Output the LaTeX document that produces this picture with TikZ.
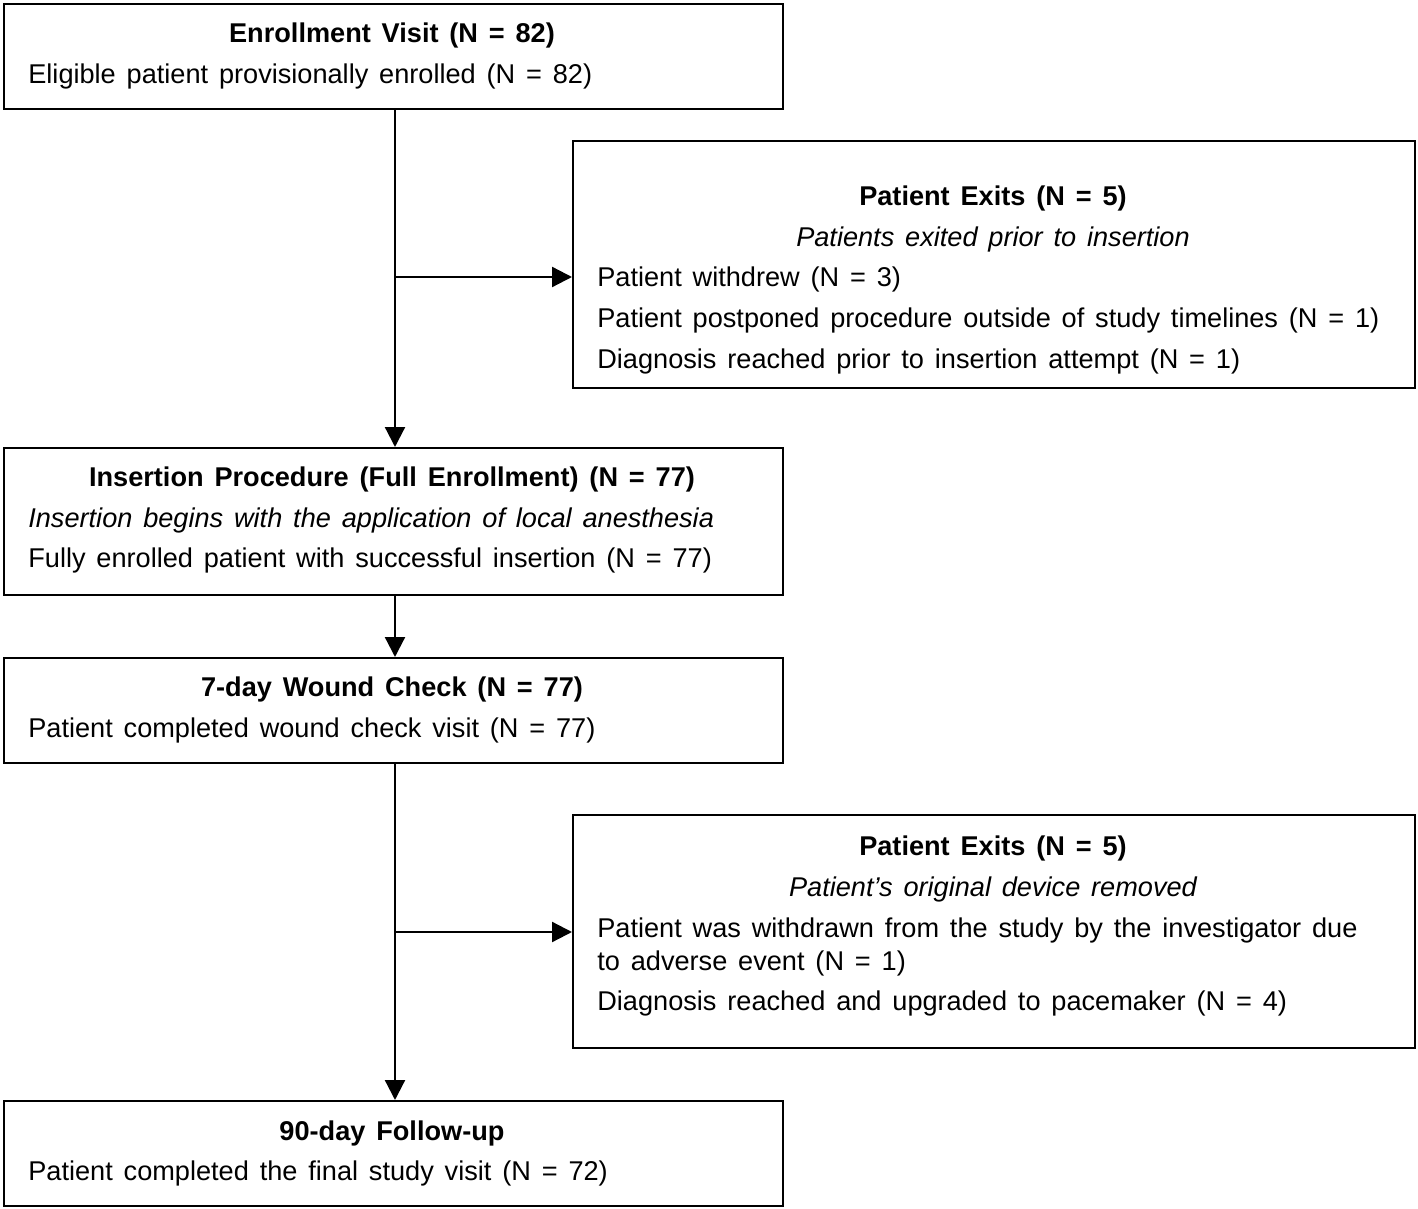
\documentclass[tikz,border=0pt]{standalone}
\usepackage{fontspec}
\setmainfont{Liberation Sans}
\usetikzlibrary{arrows.meta}
\newcommand\wordsp{\spaceskip=0.40em plus 0.1em minus 0.05em\relax}
\tikzset{
  box/.style={draw, line width=1.3pt, rectangle, inner sep=0pt, anchor=north west},
  txt/.style={inner sep=0pt, anchor=mid west, font=\fontsize{15.45pt}{18pt}\selectfont, execute at begin node=\wordsp},
  ctxt/.style={txt, anchor=mid},
  hd/.style={ctxt, font=\fontsize{15.45pt}{18pt}\selectfont\bfseries},
  it/.style={ctxt, font=\fontsize{15.45pt}{18pt}\selectfont\itshape},
  itl/.style={txt, font=\fontsize{15.45pt}{18pt}\selectfont\itshape},
  conn/.style={line width=1.3pt, -{Triangle[length=0.4cm, width=0.4cm]}}
}
\begin{document}
\begin{tikzpicture}[x=0.02cm,y=-0.02cm]
\useasboundingbox (0,0) rectangle (1418,1209);
% boxes
\node[box, minimum width=15.58cm, minimum height=2.10cm] (enr) at (3,3) {};
\node[box, minimum width=16.84cm, minimum height=4.94cm] (ex1) at (572,140) {};
\node[box, minimum width=15.58cm, minimum height=2.94cm] (ins) at (3,447) {};
\node[box, minimum width=15.58cm, minimum height=2.10cm] (wnd) at (3,657) {};
\node[box, minimum width=16.84cm, minimum height=4.66cm] (ex2) at (572,814) {};
\node[box, minimum width=15.58cm, minimum height=2.10cm] (fup) at (3,1100) {};
% texts
\node[hd] (t1) at (392,38) {Enrollment Visit (N = 82)};
\node[txt] (t2) at (28,79) {Eligible patient provisionally enrolled (N = 82)};
\node[hd] (t3) at (993,201) {Patient Exits (N = 5)};
\node[it] (t4) at (993,242) {Patients exited prior to insertion};
\node[txt] (t5) at (597,282) {Patient withdrew (N = 3)};
\node[txt] (t6) at (597,323) {Patient postponed procedure outside of study timelines (N = 1)};
\node[txt] (t7) at (597,364) {Diagnosis reached prior to insertion attempt (N = 1)};
\node[hd] (t8) at (392,482) {Insertion Procedure (Full Enrollment) (N = 77)};
\node[itl] (t9) at (28,523) {Insertion begins with the application of local anesthesia};
\node[txt] (t10) at (28,563) {Fully enrolled patient with successful insertion (N = 77)};
\node[hd] (t11) at (392,692) {7-day Wound Check (N = 77)};
\node[txt] (t12) at (28,733) {Patient completed wound check visit (N = 77)};
\node[hd] (t13) at (993,851) {Patient Exits (N = 5)};
\node[it] (t14) at (993,892) {Patient’s original device removed};
\node[txt] (t15) at (597,933) {Patient was withdrawn from the study by the investigator due};
\node[txt] (t16) at (597,966) {to adverse event (N = 1)};
\node[txt] (t17) at (597,1006) {Diagnosis reached and upgraded to pacemaker (N = 4)};
\node[hd] (t18) at (392,1136) {90-day Follow-up};
\node[txt] (t19) at (28,1176) {Patient completed the final study visit (N = 72)};
% connectors
\coordinate (b1) at (395,277);
\coordinate (b2) at (395,932);
\draw[conn] (enr.south -| b1) -- (ins.north -| b1);
\draw[conn] (b1) -- (b1 -| ex1.west);
\draw[conn] (ins.south -| b1) -- (wnd.north -| b1);
\draw[conn] (wnd.south -| b2) -- (fup.north -| b2);
\draw[conn] (b2) -- (b2 -| ex2.west);
\end{tikzpicture}
\end{document}
